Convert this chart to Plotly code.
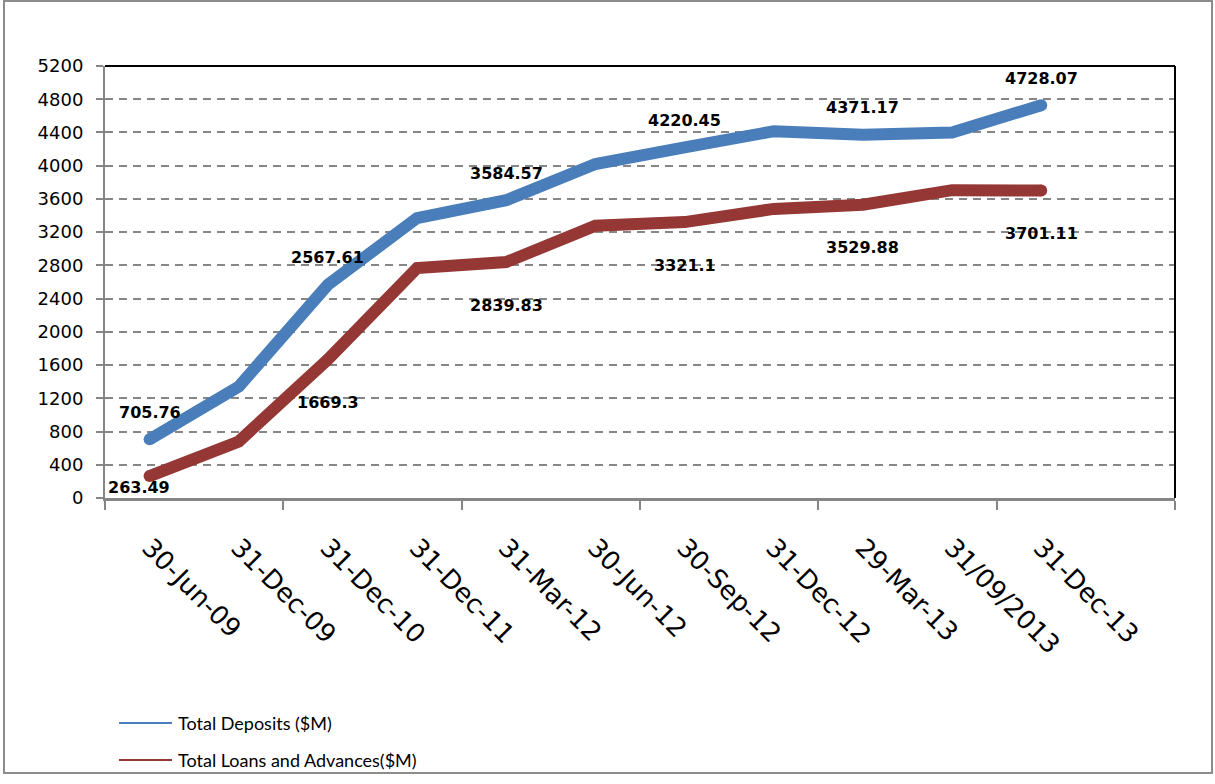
import plotly.graph_objects as go

categories = ["30-Jun-09", "31-Dec-09", "31-Dec-10", "31-Dec-11", "31-Mar-12",
              "30-Jun-12", "30-Sep-12", "31-Dec-12", "29-Mar-13", "31/09/2013", "31-Dec-13"]
deposits = [705.76, 1340, 2567.61, 3370, 3584.57, 4020, 4220.45, 4415, 4371.17, 4400, 4728.07]
loans = [263.49, 680, 1669.3, 2768, 2839.83, 3278, 3321.1, 3480, 3529.88, 3705, 3701.11]
series_names = ["Total Deposits ($M)", "Total Loans and Advances($M)"]
y_ticks = list(range(0, 5201, 400))

BLUE = "#4a7ebb"
RED = "#953735"
xs = list(range(len(categories)))

fig = go.Figure()
fig.add_trace(go.Scatter(x=xs, y=deposits, mode="lines", name=series_names[0],
                         line=dict(color=BLUE, width=12), showlegend=False, hoverinfo="skip"))
fig.add_trace(go.Scatter(x=xs, y=loans, mode="lines", name=series_names[1],
                         line=dict(color=RED, width=12), showlegend=False, hoverinfo="skip"))
# round end caps
ends = [12 if i in (0, len(xs) - 1) else 0 for i in xs]
fig.add_trace(go.Scatter(x=xs, y=deposits, mode="markers",
                         marker=dict(color=BLUE, size=ends, opacity=1, line=dict(width=0)),
                         showlegend=False, hoverinfo="skip"))
fig.add_trace(go.Scatter(x=xs, y=loans, mode="markers",
                         marker=dict(color=RED, size=ends, opacity=1, line=dict(width=0)),
                         showlegend=False, hoverinfo="skip"))

LBL_FONT = dict(family="DejaVu Sans", size=16, color="black", weight="bold")
annotations = []
for i in xs:
    if i % 2 == 0:
        annotations.append(dict(x=i, y=deposits[i], text=str(deposits[i]), showarrow=False,
                                yshift=27, font=LBL_FONT))
        if i == 0:
            # label kept inside the plot area
            annotations.append(dict(x=i, y=loans[i], text=str(loans[i]), showarrow=False,
                                    yshift=-11, xshift=-11, font=LBL_FONT))
        else:
            annotations.append(dict(x=i, y=loans[i], text=str(loans[i]), showarrow=False,
                                    yshift=-43, font=LBL_FONT))

shapes = [
    # outer chart border
    dict(type="rect", xref="paper", yref="paper", x0=-0.0944, x1=1.0346, y0=-0.6366, y1=1.1505,
         line=dict(color="#8c8c8c", width=2), layer="below"),
    # plot area top & right border
    dict(type="line", xref="paper", yref="paper", x0=0, x1=1, y0=1, y1=1, line=dict(color="black", width=2)),
    dict(type="line", xref="paper", yref="paper", x0=1, x1=1, y0=0, y1=1, line=dict(color="black", width=2)),
]

# legend (drawn manually, bottom-left)
LEG_FONT = dict(family="Lato", size=18, color="black")
for name, col, ly in zip(series_names, [BLUE, RED], [-0.5208, -0.6065]):
    shapes.append(dict(type="line", xref="paper", yref="paper", x0=0.0131, x1=0.0626, y0=ly, y1=ly,
                       line=dict(color=col, width=2)))
    annotations.append(dict(xref="paper", yref="paper", x=0.0664, y=ly, xanchor="left", yanchor="middle",
                            text=name, showarrow=False, font=LEG_FONT))

fig.update_layout(
    width=1215, height=784,
    margin=dict(l=105, r=40, t=66, b=286),
    paper_bgcolor="white", plot_bgcolor="white",
    font=dict(family="DejaVu Sans", color="black"),
    annotations=annotations,
    shapes=shapes,
    showlegend=False,
    xaxis=dict(
        range=[-0.5, 11.5], tickmode="array", tickvals=xs, ticktext=categories,
        tickangle=45, tickfont=dict(family="DejaVu Sans", size=26, color="black"),
        ticks="outside", ticklen=0, showgrid=False, zeroline=False,
        showline=True, linecolor="#868686", linewidth=3,
        ticklabelstandoff=21, automargin=False,
        minor=dict(tickmode="array", tickvals=[-0.5, 1.5, 3.5, 5.5, 7.5, 9.5, 11.5],
                   ticks="outside", ticklen=9, tickwidth=2, tickcolor="#868686", showgrid=False),
    ),
    yaxis=dict(
        range=[0, 5200], tickmode="array", tickvals=y_ticks,
        tickfont=dict(family="DejaVu Sans", size=18, color="black"),
        ticks="outside", ticklen=7, tickwidth=2, tickcolor="#868686",
        showgrid=True, gridcolor="#868686", gridwidth=2, griddash="8px,6px",
        zeroline=False, showline=True, linecolor="#868686", linewidth=2,
        ticklabelstandoff=9, automargin=False,
    ),
)

fig.write_html("out.html")
